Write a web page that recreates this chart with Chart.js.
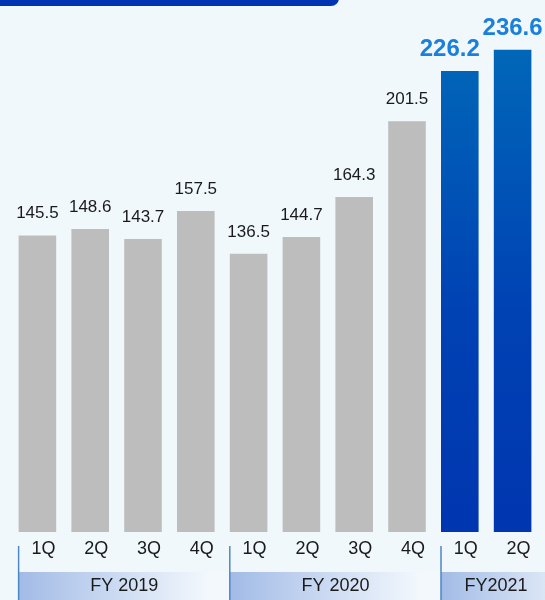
<!DOCTYPE html>
<html>
<head>
<meta charset="utf-8">
<script src="https://cdn.jsdelivr.net/npm/chart.js@4.4.1/dist/chart.umd.min.js"></script>
<style>
  html, body { margin: 0; padding: 0; background: #f1f8fc; }
  #wrap { position: relative; width: 545px; height: 600px; }
</style>
</head>
<body>
<div id="wrap"><canvas id="chart-quarters"></canvas></div>
<script>
// quarterly values
const quarters   = ['1Q', '2Q', '3Q', '4Q', '1Q', '2Q', '3Q', '4Q', '1Q', '2Q'];
const values     = [145.5, 148.6, 143.7, 157.5, 136.5, 144.7, 164.3, 201.5, 226.2, 236.6];
const highlight  = [false, false, false, false, false, false, false, false, true, true];
const fyLabels   = ['FY 2019', 'FY 2020', 'FY2021'];
const fySizes    = [4, 4, 2];

const GRAY = '#bdbdbd';
const LABEL_BLUE = '#1a80dc';

const blueGradient = (chart) => {
  const { ctx, chartArea } = chart;
  if (!chartArea) return '#0040b4';
  const g = ctx.createLinearGradient(0, chartArea.top + 40, 0, chartArea.bottom);
  g.addColorStop(0, '#0068b8');
  g.addColorStop(0.55, '#0042b4');
  g.addColorStop(1, '#0036b0');
  return g;
};

// background strip, value labels, quarter ticks and FY band
const decorPlugin = {
  id: 'decor',
  beforeDraw(chart) {
    const { ctx } = chart;
    ctx.save();
    ctx.fillStyle = '#0034b0';
    ctx.beginPath();
    ctx.roundRect(-10, -12, 349, 18, 8);
    ctx.fill();
    ctx.restore();
  },
  afterDatasetsDraw(chart) {
    const { ctx } = chart;
    const x = chart.scales.x;
    const meta = chart.getDatasetMeta(0);
    ctx.save();
    ctx.textAlign = 'center';
    ctx.textBaseline = 'alphabetic';

    // value labels
    meta.data.forEach((bar, i) => {
      if (highlight[i]) {
        ctx.font = 'bold 24px "Liberation Sans", Arial, sans-serif';
        ctx.fillStyle = LABEL_BLUE;
        ctx.fillText(values[i].toFixed(1), bar.x - (i === 8 ? 10 : 0), bar.y - 15);
      } else {
        ctx.font = '17px "Liberation Sans", Arial, sans-serif';
        ctx.fillStyle = '#1a1a1a';
        ctx.fillText(values[i].toFixed(1), bar.x, bar.y - 17);
      }
    });

    // quarter labels
    ctx.font = '18px "Liberation Sans", Arial, sans-serif';
    ctx.fillStyle = '#1a1a1a';
    ctx.textBaseline = 'middle';
    quarters.forEach((q, i) => ctx.fillText(q, x.getPixelForValue(i) + 6, 549));

    // FY band
    const half = meta.data[0].width / 2;
    let start = 0;
    fyLabels.forEach((lbl, g) => {
      const x0 = meta.data[start].x - half;
      const x1 = g < fyLabels.length - 1 ? meta.data[start + fySizes[g]].x - half : chart.width;
      const grad = ctx.createLinearGradient(x0, 0, x1, 0);
      grad.addColorStop(0, '#a2bbe6');
      grad.addColorStop(g < fyLabels.length - 1 ? 0.9 : 1, g < fyLabels.length - 1 ? '#f3f8fd' : '#dbe6f5');
      ctx.fillStyle = grad;
      ctx.fillRect(x0, 572, x1 - x0, 28);

      ctx.strokeStyle = '#4d87c4';
      ctx.lineWidth = 1.5;
      ctx.beginPath();
      ctx.moveTo(x0, 546);
      ctx.lineTo(x0, 600);
      ctx.stroke();

      ctx.fillStyle = '#1a1a1a';
      ctx.font = '18px "Liberation Sans", Arial, sans-serif';
      ctx.fillText(lbl, (x0 + x1) / 2 + (g === 2 ? 3 : 0), 586);
      start += fySizes[g];
    });
    ctx.restore();
  }
};

new Chart(document.getElementById('chart-quarters'), {
  type: 'bar',
  data: {
    labels: quarters,
    datasets: [{
      data: values,
      backgroundColor: (c) => highlight[c.dataIndex] ? blueGradient(c.chart) : GRAY,
      borderWidth: 0,
      categoryPercentage: 0.712,
      barPercentage: 1
    }]
  },
  options: {
    responsive: true,
    maintainAspectRatio: false,
    animation: false,
    layout: { padding: { left: 11, right: 6, top: 0, bottom: 68 } },
    plugins: { legend: { display: false }, tooltip: { enabled: false } },
    scales: {
      x: { display: false },
      y: { display: false, min: 0, max: 261 }
    }
  },
  plugins: [decorPlugin]
});
</script>
</body>
</html>
